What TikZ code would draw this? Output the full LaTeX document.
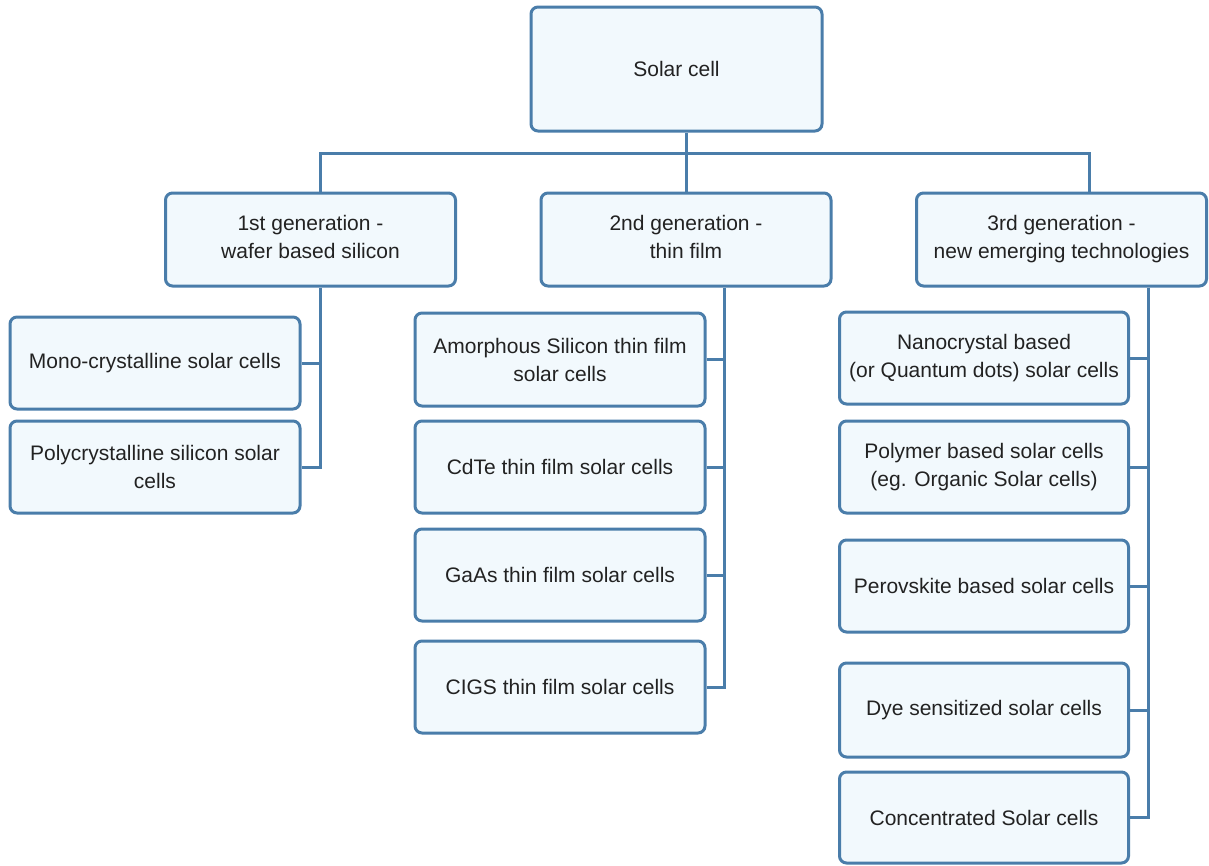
\documentclass[tikz,border=0pt]{standalone}
\usepackage{fontspec}
\setmainfont{Liberation Sans}
\definecolor{bordc}{HTML}{4A7DAA}
\definecolor{fillc}{HTML}{F2F9FD}
\definecolor{txtc}{HTML}{222222}
\begin{document}
\begin{tikzpicture}[x=1pt,y=-1pt,
  box/.style={draw=bordc,fill=fillc,line width=3pt,rounded corners=7pt,
    minimum width=290pt,minimum height=92pt,align=center,text=txtc,
    font=\fontsize{21}{28}\selectfont,inner sep=0pt},
  conn/.style={draw=bordc,line width=3pt}]
\useasboundingbox (0,0) rectangle (1209,865);
% nodes
\node[box,minimum width=291pt,minimum height=124pt] (root) at (676.5,69) {Solar cell};
\node[box,minimum height=93pt] (gen1) at (310.5,239.5) {1st generation -\\wafer based silicon\vphantom{g}};
\node[box,minimum height=93pt] (gen2) at (686,239.5) {2nd generation -\\thin film\vphantom{g}};
\node[box,minimum height=93pt] (gen3) at (1061.5,239.5) {3rd generation -\\new emerging technologies};
\node[box] (mono) at (155,363) {Mono-crystalline solar cells};
\node[box] (poly) at (155,467) {Polycrystalline silicon solar\\cells};
\node[box,minimum height=93pt] (amor) at (560,359.5) {Amorphous Silicon thin film\\solar cells};
\node[box] (cdte) at (560,467) {CdTe thin film solar cells};
\node[box] (gaas) at (560,575) {GaAs thin film solar cells};
\node[box] (cigs) at (560,687) {CIGS thin film solar cells};
\node[box,minimum width=289pt] (nano) at (984,358) {Nanocrystal based\\(or Quantum dots) solar cells};
\node[box,minimum width=289pt] (polym) at (984,467) {Polymer based solar cells\\(eg. Organic Solar cells)};
\node[box,minimum width=289pt] (perov) at (984,586) {Perovskite based solar cells};
\node[box,minimum width=289pt,minimum height=94pt] (dye) at (984,710) {Dye sensitized solar cells};
\node[box,minimum width=289pt,minimum height=91pt] (conc) at (984,817.5) {Concentrated Solar cells};
% coordinates
\coordinate (b1) at (320,153);
\coordinate (b3) at (1089,153);
\coordinate (v1) at (320,300);
\coordinate (v2) at (724,300);
\coordinate (v3) at (1148,300);
% connectors
\draw[conn] (gen2.north) -- (gen2.north |- root.south);
\draw[conn] (gen1.north -| b1) -- (b1) -- (b3) -- (gen3.north -| b3);
\draw[conn] (gen1.south -| v1) |- (poly.east);
\draw[conn] (mono.east) -- (mono.east -| v1);
\draw[conn] (gen2.south -| v2) |- (cigs.east);
\draw[conn] (amor.east) -- (amor.east -| v2);
\draw[conn] (cdte.east) -- (cdte.east -| v2);
\draw[conn] (gaas.east) -- (gaas.east -| v2);
\draw[conn] (gen3.south -| v3) |- (conc.east);
\draw[conn] (nano.east) -- (nano.east -| v3);
\draw[conn] (polym.east) -- (polym.east -| v3);
\draw[conn] (perov.east) -- (perov.east -| v3);
\draw[conn] (dye.east) -- (dye.east -| v3);
\end{tikzpicture}
\end{document}
